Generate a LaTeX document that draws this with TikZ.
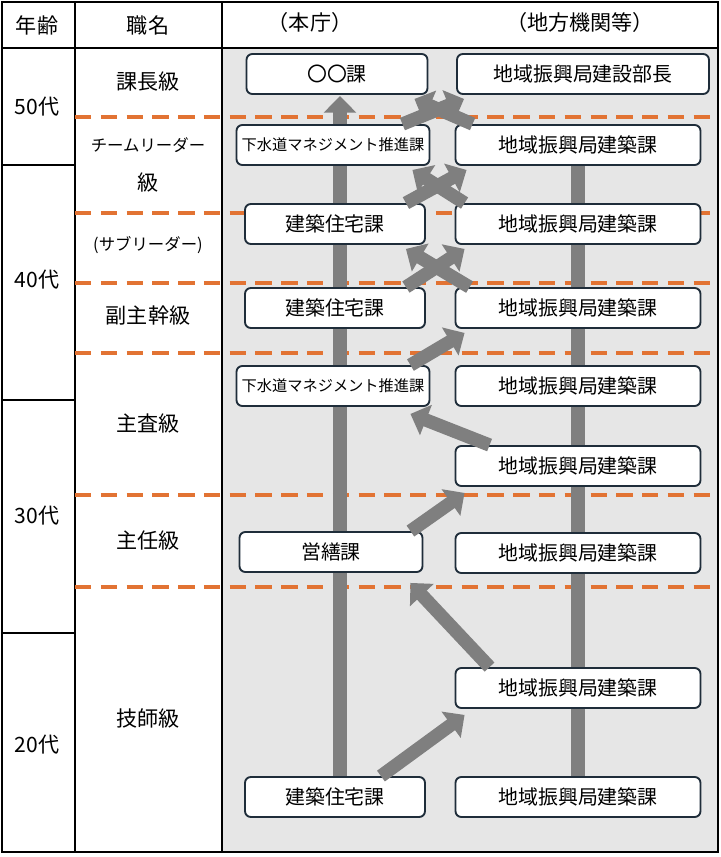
\documentclass[tikz,border=0pt]{standalone}
\usepackage{fontspec}
\setmainfont{Noto Sans CJK JP}
\usetikzlibrary{calc,arrows.meta,positioning}
\definecolor{boxline}{HTML}{1F2D3A}
\definecolor{grade}{HTML}{E27333}
\definecolor{flowgray}{HTML}{7F7F7F}
\definecolor{back}{HTML}{E6E6E6}
\tikzset{
  post/.style={draw=boxline,line width=1.6pt,rounded corners=5pt,fill=white,
    minimum height=40*0.03cm,inner sep=0pt,font=\fontsize{17}{19}\selectfont},
  smallpost/.style={post,font=\fontsize{13}{15}\selectfont},
  flow/.style={line width=0.4cm,draw=flowgray,-{Triangle[width=0.95cm,length=0.5cm]}},
  gradeline/.style={draw=grade,line width=3pt,dash pattern=on 14pt off 8pt},
  lab/.style={font=\fontsize{18}{20}\selectfont}
}
\begin{document}
\begin{tikzpicture}[x=0.03cm,y=-0.03cm]
		\useasboundingbox (0,0) rectangle (721,857);
		\fill[back] (222,48) rectangle (718,852);
		% table
		\draw[line width=1pt] (2,2) rectangle (718,852);
		\draw[line width=1pt] (2,48) -- (718,48);
		\draw[line width=1pt] (75,2) -- (75,852);
		\draw[line width=1pt] (222,2) -- (222,852);
		\foreach \y in {165,400,633} \draw[line width=1pt] (2,\y) -- (75,\y);
		% headers
		\node[lab] (hage) at (37,25) {年齢};
		\node[lab] (hjob) at (148,25) {職名};
		\node[lab] (hmain) at (310,22) {（本庁）};
		\node[lab] (hlocal) at (580,22) {（地方機関等）};
		\node[lab] (a50) at (37,107) {50代};
		\node[lab] (a40) at (37,280) {40代};
		\node[lab] (a30) at (37,516) {30代};
		\node[lab] (a20) at (37,745) {20代};
		\node[lab] (g1) at (148,82) {課長級};
		\node[font=\fontsize{14}{16}\selectfont] (g2) at (148,145) {チームリーダー};
		\node[lab] (g2b) at (148,183) {級};
		\node[font=\fontsize{14}{16}\selectfont] (g3) at (148,245) {(サブリーダー)};
		\node[lab] (g4) at (148,316) {副主幹級};
		\node[lab] (g5) at (148,423) {主査級};
		\node[lab] (g6) at (148,540) {主任級};
		\node[lab] (g7) at (148,718) {技師級};
		% grade lines
		\foreach \y in {117,213,283,353,495,587} \draw[gradeline] (75,\y) -- (718,\y);
		% career lines
		\draw[flow] (340,776) -- (340,96);
		\draw[line width=0.4cm,draw=flowgray] (578,776) -- (578,130);
		% main office
		\node[post,minimum width=181*0.03cm] (L1) at (337,74) {〇〇課};
		\node[smallpost,minimum width=193*0.03cm] (L2) at (333,145) {下水道マネジメント推進課};
		\node[post,minimum width=180*0.03cm] (L3) at (335,224) {建築住宅課};
		\node[post,minimum width=180*0.03cm] (L4) at (335,308) {建築住宅課};
		\node[smallpost,minimum width=193*0.03cm] (L5) at (333,386) {下水道マネジメント推進課};
		\node[post,minimum width=183*0.03cm] (L6) at (331,552) {営繕課};
		\node[post,minimum width=180*0.03cm] (L7) at (335,797) {建築住宅課};
		% local offices
		\node[post,minimum width=252*0.03cm] (R1) at (583,74) {地域振興局建設部長};
		\foreach \n/\y in {2/145,3/224,4/308,5/386,6/466,7/553,8/688,9/797}
			\node[post,minimum width=245*0.03cm] (R\n) at (578,\y) {地域振興局建築課};
		% moves
		\draw[flow] ($(L7.north east)+(-45,0)$) -- ($(R8.south west)+(10,6)$);
		\draw[flow] ($(R8.north west)+(35,0)$) -- ($(L6.south east)+(-13,10)$);
		\draw[flow] ($(L6.north east)+(-13,0)$) -- ($(R6.south west)+(10,6)$);
		\draw[flow] ($(R6.north west)+(35,0)$) -- ($(L5.south east)+(-20,7)$);
		\draw[flow] ($(L5.north east)+(-20,0)$) -- ($(R4.south west)+(10,4)$);
		\draw[flow] ($(L4.north east)+(-20,0)$) -- ($(R3.south west)+(10,4)$);
		\draw[flow] ($(R4.north west)+(15,0)$) -- ($(L3.south east)+(-20,4)$);
		\draw[flow] ($(L3.north east)+(-20,0)$) -- ($(R2.south west)+(12,4)$);
		\draw[flow] ($(R3.north west)+(10,0)$) -- ($(L2.south east)+(-18,4)$);
		\draw[flow] ($(L2.north east)+(-28,0)$) -- ($(R1.south west)+(8,4)$);
		\draw[flow] ($(R2.north west)+(18,0)$) -- ($(L1.south east)+(-14,4)$);
\end{tikzpicture}
\end{document}
